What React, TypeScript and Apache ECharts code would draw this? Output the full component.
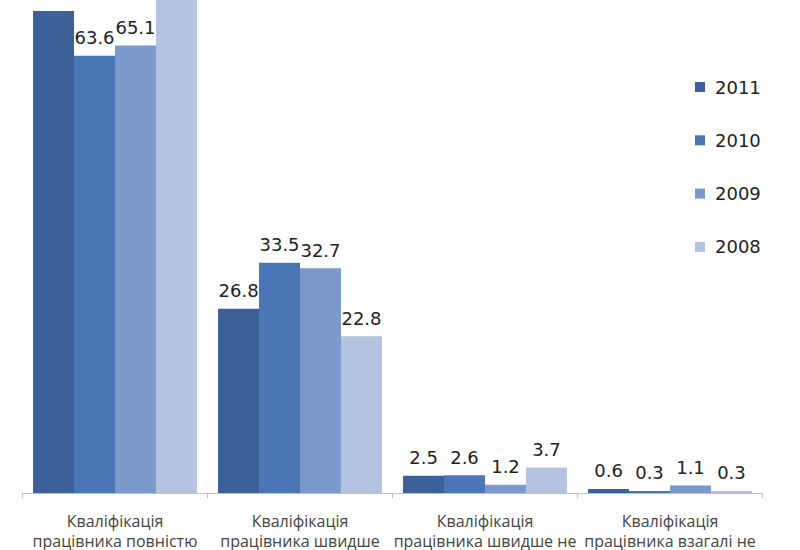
import React, { useEffect, useRef } from "react";
import * as echarts from "echarts";

const categories = [
  "Кваліфікація\nпрацівника повністю",
  "Кваліфікація\nпрацівника швидше",
  "Кваліфікація\nпрацівника швидше не",
  "Кваліфікація\nпрацівника взагалі не",
];
const seriesNames = ["2011", "2010", "2009", "2008"];
const values2011 = [70.1, 26.8, 2.5, 0.6];
const values2010 = [63.6, 33.5, 2.6, 0.3];
const values2009 = [65.1, 32.7, 1.2, 1.1];
const values2008 = [73.2, 22.8, 3.7, 0.3];
const colors = ["#3b6198", "#4a76b5", "#7b9acb", "#b3c3e1"];

export default function App() {
  const ref = useRef<HTMLDivElement>(null);
  useEffect(() => {
    if (!ref.current) return;
    const chart = echarts.init(ref.current, null, { renderer: "svg" });
    const all = [values2011, values2010, values2009, values2008];
    chart.setOption({
      animation: false,
      backgroundColor: "#ffffff",
      grid: { left: 22.5, right: 37.5, top: 23, bottom: 60 },
      legend: {
        orient: "vertical",
        left: 690,
        top: 153,
        itemWidth: 10,
        itemHeight: 10,
        itemGap: 35.3,
        icon: "rect",
        data: seriesNames,
        textStyle: {
          fontSize: 18,
          color: "#222",
          fontFamily: "DejaVu Sans",
          padding: [0, 0, 0, 5],
        },
      },
      xAxis: {
        type: "category",
        data: categories,
        axisLine: { lineStyle: { color: "#bfbfbf", width: 1 } },
        axisTick: { show: true, length: 5, lineStyle: { color: "#bfbfbf" } },
        axisLabel: {
          interval: 0,
          margin: 18,
          fontSize: 16,
          lineHeight: 20,
          color: "#444",
          fontFamily: "Open Sans",
        },
      },
      yAxis: {
        type: "value",
        min: 0,
        max: 80,
        show: false,
        splitLine: { show: false },
      },
      series: seriesNames.map((name, i) => ({
        name,
        type: "bar",
        data: all[i],
        barGap: "0%",
        barCategoryGap: "11.4%",
        itemStyle: { color: colors[i] },
        label: {
          show: true,
          position: "top",
          distance: 9,
          fontSize: 18,
          color: "#222",
          fontFamily: "DejaVu Sans",
        },
      })),
    });
    return () => chart.dispose();
  }, []);
  return (
    <div
      style={{
        position: "fixed",
        left: 0,
        top: 0,
        width: 800,
        height: 550,
        overflow: "hidden",
        background: "#fff",
      }}
    >
      <div
        ref={ref}
        style={{ position: "absolute", left: 0, top: -80, width: 800, height: 633 }}
      />
    </div>
  );
}
